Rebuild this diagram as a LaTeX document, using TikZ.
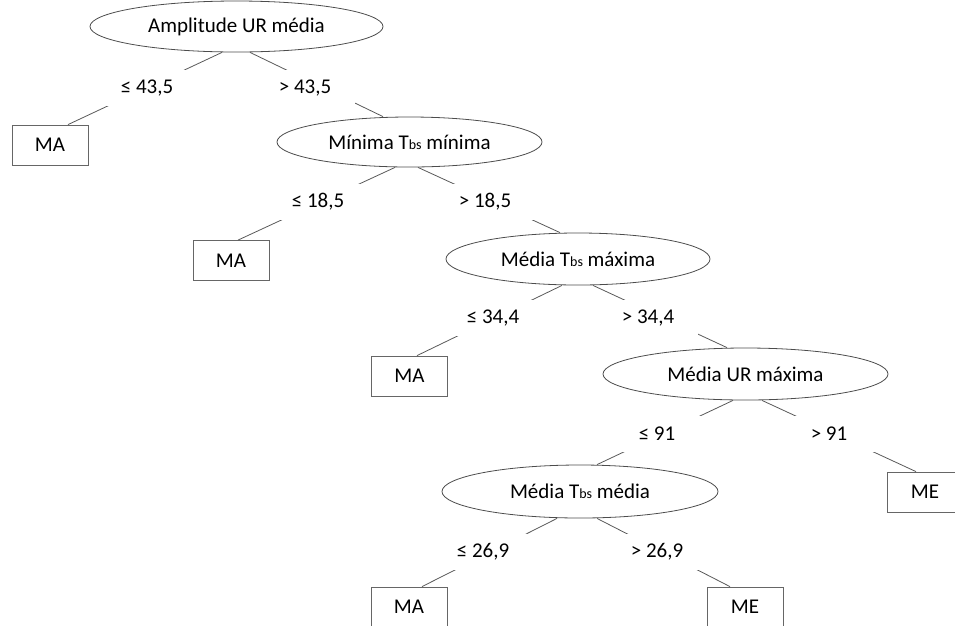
\documentclass[tikz,border=0pt]{standalone}
\usepackage{fontspec}
\setmainfont{Carlito}
\usetikzlibrary{shapes.geometric}
\newcommand{\Tbs}{T{\fontsize{14}{14}\selectfont bs}}
\tikzset{
  test/.style={draw=black!70, ellipse, inner sep=0pt},
  leaf/.style={draw=black!60, minimum width=76pt, minimum height=40pt, inner sep=0pt},
  cond/.style={fill=white, minimum width=100pt, minimum height=36pt, inner sep=0pt}
}
\begin{document}
\begin{tikzpicture}[x=1pt, y=-1pt, line width=0.8pt, font=\fontsize{21}{25}\selectfont, text=black]
  \useasboundingbox (0,0) rectangle (955,625);
  \clip (0,0) rectangle (955,625);
  \node[test, minimum width=293pt, minimum height=51pt] (root) at (236.5,26.5) {Amplitude UR média};
  \node[test, minimum width=265pt, minimum height=50pt] (n2) at (409.5,142) {Mínima \Tbs{} mínima};
  \node[test, minimum width=264pt, minimum height=52pt] (n3) at (578,259) {Média \Tbs{} máxima};
  \node[test, minimum width=285pt, minimum height=52pt] (n4) at (745.5,374) {Média UR máxima};
  \node[test, minimum width=276pt, minimum height=53pt] (n5) at (580,491.5) {Média \Tbs{} média};
  \node[leaf] (ma1) at (50,145) {MA};
  \node[leaf] (ma2) at (231,260.5) {MA};
  \node[leaf] (ma3) at (409.5,376) {MA};
  \node[leaf] (me1) at (925,492) {ME};
  \node[leaf] (ma4) at (409,607) {MA};
  \node[leaf] (me2) at (745,607) {ME};
  \foreach \a/\da/\b/\db in {root/-14.5/ma1/18, root/13.5/n2/-26.5, n2/-14.5/ma2/7, n2/8.5/n3/-18,
      n3/-16/ma3/7.5, n3/15/n4/-18.5, n4/-12.5/n5/17, n4/16.5/me1/-9, n5/-23/ma4/13, n5/17/me2/-15}
    \draw[black!65] ([xshift=\da pt]\a.south) -- ([xshift=\db pt]\b.north);
  \foreach \n/\x/\y/\lab in {le1/147/88/{≤ 43,5}, gt1/305/88/{> 43,5}, le2/318/202/{≤ 18,5}, gt2/485/202/{> 18,5},
      le3/493/318/{≤ 34,4}, gt3/648/318/{> 34,4}, le4/657/434/{≤ 91}, gt4/829/434/{> 91},
      le5/483/552/{≤ 26,9}, gt5/657/552/{> 26,9}}
    \node[cond] (\n) at (\x,\y) {\lab};
\end{tikzpicture}
\end{document}
